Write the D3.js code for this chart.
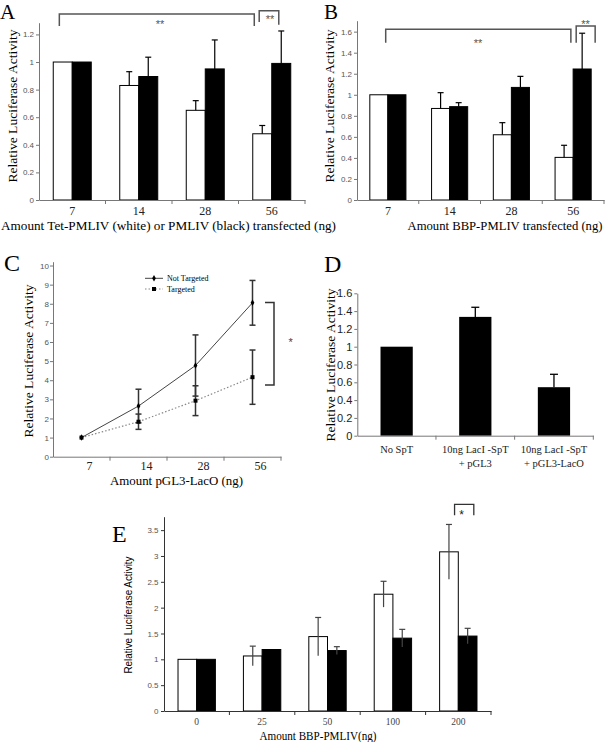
<!DOCTYPE html>
<html><head><meta charset="utf-8">
<script src="https://cdn.jsdelivr.net/npm/d3@7/dist/d3.min.js"></script>
<style>body{margin:0;background:#fff}svg{display:block}</style>
</head><body>
<svg id="c" width="608" height="742"></svg>
<script>
// ---------- DATA ----------
const catsAB = ["7", "14", "28", "56"];
const aWhite = [1.0, 0.83, 0.65, 0.48];
const aWhiteErr = [0, 0.10, 0.07, 0.06];
const aBlack = [1.0, 0.895, 0.95, 0.99];
const aBlackErr = [0, 0.14, 0.21, 0.235];
const aTicks = [0, 0.2, 0.4, 0.6, 0.8, 1, 1.2];

const bWhite = [1.0, 0.87, 0.62, 0.405];
const bWhiteErr = [0, 0.15, 0.115, 0.115];
const bBlack = [1.0, 0.887, 1.07, 1.245];
const bBlackErr = [0, 0.038, 0.105, 0.34];
const bTicks = [0, 0.2, 0.4, 0.6, 0.8, 1, 1.2, 1.4, 1.6];

const catsC = ["7", "14", "28", "56"];
const cNot = [1, 2.65, 4.77, 8.05];
const cNotErr = [0, 0.88, 1.6, 1.17];
const cTar = [1, 1.83, 2.93, 4.16];
const cTarErr = [0, 0.4, 0.78, 1.42];
const cTicks = [0, 1, 2, 3, 4, 5, 6, 7, 8, 9, 10];

const catsD = ["No SpT", "10ng LacI -SpT|+ pGL3", "10ng LacI -SpT|+ pGL3-LacO"];
const dVals = [1.0, 1.335, 0.545];
const dErr = [0, 0.108, 0.145];
const dTicks = [0, 0.2, 0.4, 0.6, 0.8, 1, 1.2, 1.4, 1.6];

const catsE = ["0", "25", "50", "100", "200"];
const eWhite = [1.0, 1.065, 1.44, 2.26, 3.08];
const eWhiteErr = [0, 0.19, 0.37, 0.25, 0.53];
const eBlack = [1.0, 1.19, 1.17, 1.41, 1.45];
const eBlackErr = [0, 0, 0.075, 0.17, 0.15];
const eTicks = [0, 0.5, 1, 1.5, 2, 2.5, 3, 3.5];

const yTitle = "Relative Luciferase Activity";

// ---------- HELPERS ----------
const svg = d3.select("#c");
const SERIF = "'Liberation Serif','Times New Roman',serif";
const SANS = "'Liberation Sans',Arial,sans-serif";
const fmt = d => String(+d.toFixed(1));

function text(g, s, x, y, o) {
  const t = g.append("text").attr("x", x).attr("y", y).text(s)
    .attr("font-family", o.ff || SERIF).attr("font-size", o.fs || 14)
    .attr("fill", o.fill || "#000").attr("text-anchor", o.anchor || "middle");
  if (o.len) t.attr("textLength", o.len).attr("lengthAdjust", "spacingAndGlyphs");
  return t;
}
function vtext(g, s, cx, cy, o) {
  const t = g.append("text").attr("transform", `translate(${cx},${cy}) rotate(-90)`)
    .attr("dy", "0.35em").text(s)
    .attr("font-family", o.ff || SERIF).attr("font-size", o.fs || 14)
    .attr("fill", o.fill || "#000").attr("text-anchor", "middle");
  if (o.len) t.attr("textLength", o.len).attr("lengthAdjust", "spacingAndGlyphs");
  return t;
}
function yAxis(g, y, x, ticks, o) {
  const a = g.append("g").attr("transform", `translate(${x},0)`)
    .call(d3.axisLeft(y).tickValues(ticks).tickFormat(fmt).tickSize(3).tickSizeOuter(0).tickPadding(o.pad || 2));
  a.select(".domain").attr("stroke", o.color).attr("stroke-width", 1);
  a.selectAll(".tick line").attr("stroke", o.color);
  a.selectAll(".tick text").attr("font-family", SANS).attr("font-size", o.fs).attr("fill", o.tfill);
  return a;
}
function xAxis(g, x, y0, o) {
  const a = g.append("g").attr("transform", `translate(0,${y0})`)
    .call(d3.axisBottom(x).tickSize(0).tickSizeOuter(0).tickPadding(o.pad));
  a.select(".domain").attr("stroke", o.color).attr("stroke-width", 1);
  a.selectAll(".tick text").attr("font-family", SERIF).attr("font-size", o.fs).attr("fill", o.tfill)
    .attr("dx", o.dx || 0);
  a.selectAll(".bt").data(x.domain()).join("line").attr("class", "bt")
    .attr("x1", d => x(d) + x.step()).attr("x2", d => x(d) + x.step())
    .attr("y1", 0).attr("y2", 4).attr("stroke", o.color);
  return a;
}
function errBar(g, cx, yv, ylo, yhi, cap, color, sw, bottomCap) {
  g.append("line").attr("x1", cx).attr("x2", cx).attr("y1", ylo).attr("y2", yhi)
    .attr("stroke", color).attr("stroke-width", sw);
  g.append("line").attr("x1", cx - cap).attr("x2", cx + cap).attr("y1", yhi).attr("y2", yhi)
    .attr("stroke", color).attr("stroke-width", sw);
  if (bottomCap) g.append("line").attr("x1", cx - cap).attr("x2", cx + cap).attr("y1", ylo).attr("y2", ylo)
    .attr("stroke", color).attr("stroke-width", sw);
}
function groupedBars(cfg) {
  const g = svg.append("g");
  const x0 = d3.scaleBand().domain(cfg.cats).range(cfg.xr);
  const x1 = d3.scaleBand().domain(cfg.series.map(s => s.key)).range([0, x0.bandwidth()]).paddingOuter(cfg.pad);
  const y = d3.scaleLinear().domain([0, cfg.ymax]).range(cfg.yr);
  cfg.series.forEach(s => {
    g.append("g").selectAll("rect").data(cfg.cats).join("rect")
      .attr("x", c => x0(c) + x1(s.key)).attr("y", (c, i) => y(s.vals[i]))
      .attr("width", x1.bandwidth()).attr("height", (c, i) => y(0) - y(s.vals[i]))
      .attr("fill", s.fill).attr("stroke", "#000").attr("stroke-width", 1);
  });
  cfg.series.forEach(s => {
    const eg = g.append("g");
    cfg.cats.forEach((c, i) => {
      const e = s.errs[i]; if (!e) return;
      const cx = x0(c) + x1(s.key) + x1.bandwidth() / 2;
      const lo = cfg.both ? y(s.vals[i] - e) : y(s.vals[i]);
      errBar(eg, cx, y(s.vals[i]), lo, y(s.vals[i] + e), cfg.cap, cfg.errColor, cfg.errW, false);
    });
  });
  return { g, x0, x1, y };
}
function bracket(g, x1, x2, yTop, yL, yR, color, sw) {
  g.append("path").attr("d", `M${x1},${yL}V${yTop}H${x2}V${yR}`)
    .attr("fill", "none").attr("stroke", color).attr("stroke-width", sw);
}

// ---------- PANEL A ----------
{
  const P = groupedBars({
    cats: catsAB, xr: [39, 305], pad: 0.75, ymax: 1.285, yr: [200, 22.7], cap: 3, errColor: "#000", errW: 1.2,
    series: [{ key: "white", vals: aWhite, errs: aWhiteErr, fill: "#fff" },
             { key: "black", vals: aBlack, errs: aBlackErr, fill: "#000" }]
  });
  const { g, x0, x1, y } = P;
  yAxis(g, y, 39, aTicks, { color: "#777", fs: 8, tfill: "#555", pad: 2 });
  xAxis(g, x0, 200, { color: "#777", fs: 12, tfill: "#222", pad: 6 });
  const bx = (c, k, f) => x0(c) + x1(k) + f * x1.bandwidth();
  bracket(g, bx("7", "white", 0.32), bx("56", "white", 0.08), y(1.348), y(1.261), y(1.261), "#555", 1.5);
  bracket(g, bx("56", "white", 0.34), bx("56", "black", 0.37), y(1.372), y(1.29), y(1.27), "#555", 1.5);
  text(g, "**", 160, 28, { ff: SANS, fs: 11, fill: "#555" });
  text(g, "**", 270, 23, { ff: SANS, fs: 11, fill: "#555" });
  vtext(g, yTitle, 12.5, 106, { fs: 13.5, len: 153 });
  text(g, "Amount Tet-PMLIV (white) or PMLIV (black) transfected (ng)", 168.5, 230, { fs: 13.2, len: 335 });
  text(g, "A", 0, 19, { fs: 21, anchor: "start" });
}

// ---------- PANEL B ----------
{
  const P = groupedBars({
    cats: catsAB, xr: [357, 604], pad: 0.71, ymax: 1.704, yr: [200, 20.7], cap: 3, errColor: "#000", errW: 1.2,
    series: [{ key: "white", vals: bWhite, errs: bWhiteErr, fill: "#fff" },
             { key: "black", vals: bBlack, errs: bBlackErr, fill: "#000" }]
  });
  const { g, x0, x1, y } = P;
  yAxis(g, y, 357, bTicks, { color: "#777", fs: 8, tfill: "#555", pad: 2 });
  xAxis(g, x0, 200, { color: "#777", fs: 12, tfill: "#222", pad: 6 });
  const bx = (c, k, f) => x0(c) + x1(k) + f * x1.bandwidth();
  bracket(g, bx("7", "white", 0.88), bx("56", "white", 0.875), y(1.623), y(1.495), y(1.495), "#555", 1.5);
  bracket(g, bx("56", "black", 0.17), bx("56", "black", 1.22), y(1.654), y(1.495), y(1.495), "#555", 1.5);
  text(g, "**", 478, 47, { ff: SANS, fs: 11, fill: "#555" });
  text(g, "**", 585.5, 28, { ff: SANS, fs: 11, fill: "#555" });
  vtext(g, yTitle, 329, 106, { fs: 13.5, len: 153 });
  text(g, "Amount BBP-PMLIV transfected (ng)", 505, 230, { fs: 12.7, len: 195 });
  text(g, "B", 324, 19, { fs: 21, anchor: "start" });
}

// ---------- PANEL C ----------
{
  const g = svg.append("g");
  const x = d3.scaleBand().domain(catsC).range([53, 281]);
  const y = d3.scaleLinear().domain([0, 10.2]).range([456.7, 261.7]);
  const cx = c => x(c) + x.bandwidth() / 2;
  const line = d3.line().x((d, i) => cx(catsC[i])).y(d => y(d));
  g.append("path").attr("d", line(cTar)).attr("fill", "none").attr("stroke", "#888")
    .attr("stroke-width", 1.2).attr("stroke-dasharray", "1.5,2");
  g.append("path").attr("d", line(cNot)).attr("fill", "none").attr("stroke", "#444").attr("stroke-width", 1);
  const eg = g.append("g");
  catsC.forEach((c, i) => {
    if (cNotErr[i]) errBar(eg, cx(c), y(cNot[i]), y(cNot[i] - cNotErr[i]), y(cNot[i] + cNotErr[i]), 3, "#333", 1.5, true);
    if (cTarErr[i]) errBar(eg, cx(c), y(cTar[i]), y(cTar[i] - cTarErr[i]), y(cTar[i] + cTarErr[i]), 3, "#333", 1.5, true);
  });
  g.append("g").selectAll("rect").data(cTar).join("rect")
    .attr("x", (d, i) => cx(catsC[i]) - 2).attr("y", d => y(d) - 2).attr("width", 4).attr("height", 4).attr("fill", "#000");
  const diamond = d3.symbol().type(d3.symbolDiamond).size(12);
  g.append("g").selectAll("path").data(cNot).join("path")
    .attr("transform", (d, i) => `translate(${cx(catsC[i])},${y(d)})`).attr("d", diamond).attr("fill", "#000");
  yAxis(g, y, 53, cTicks, { color: "#777", fs: 8, tfill: "#555", pad: 1 });
  xAxis(g, x, 456.7, { color: "#777", fs: 12, tfill: "#222", pad: 5, dx: 8 });
  // legend
  g.append("line").attr("x1", 145).attr("x2", 163).attr("y1", 278.3).attr("y2", 278.3).attr("stroke", "#444");
  g.append("path").attr("transform", "translate(154,278.3)").attr("d", diamond).attr("fill", "#000");
  g.append("line").attr("x1", 145).attr("x2", 163).attr("y1", 289).attr("y2", 289).attr("stroke", "#888")
    .attr("stroke-dasharray", "1.5,2").attr("stroke-width", 1.2);
  g.append("rect").attr("x", 152).attr("y", 287).attr("width", 4).attr("height", 4).attr("fill", "#000");
  text(g, "Not Targeted", 167, 281.2, { fs: 8, anchor: "start" });
  text(g, "Targeted", 167, 292, { fs: 8, anchor: "start" });
  // significance
  const bxr = cx("56") + 21.5, bxl = cx("56") + 12.5;
  g.append("path").attr("d", `M${bxl},${y(8.06)}H${bxr}V${y(3.75)}H${bxl}`)
    .attr("fill", "none").attr("stroke", "#333").attr("stroke-width", 1.5);
  text(g, "*", 290.7, 346, { ff: SANS, fs: 11, fill: "#444" });
  vtext(g, yTitle, 28, 361, { fs: 13.5, len: 153 });
  text(g, "Amount pGL3-LacO (ng)", 176.5, 485, { fs: 13, len: 133 });
  text(g, "C", 4, 271, { fs: 24, anchor: "start" });
}

// ---------- PANEL D ----------
{
  const g = svg.append("g");
  const x = d3.scaleBand().domain(catsD).range([357.3, 593.3]).paddingInner(0.59).paddingOuter(0.295);
  const xb = d3.scaleBand().domain(catsD).range([357.3, 593.3]);
  const y = d3.scaleLinear().domain([0, 1.6]).range([435.7, 293.3]);
  g.append("g").selectAll("rect").data(catsD).join("rect")
    .attr("x", c => x(c)).attr("y", (c, i) => y(dVals[i])).attr("width", x.bandwidth())
    .attr("height", (c, i) => y(0) - y(dVals[i])).attr("fill", "#000");
  const eg = g.append("g");
  catsD.forEach((c, i) => {
    if (dErr[i]) errBar(eg, x(c) + x.bandwidth() / 2, y(dVals[i]), y(dVals[i]), y(dVals[i] + dErr[i]), 4, "#000", 1.3, false);
  });
  yAxis(g, y, 357.3, dTicks, { color: "#777", fs: 11, tfill: "#222", pad: 2 });
  const a = xAxis(g, xb, 435.7, { color: "#777", fs: 10.5, tfill: "#222", pad: 10 });
  a.selectAll(".tick text").each(function (d) {
    const t = d3.select(this).text(null);
    d.split("|").forEach((s, k) => t.append("tspan").attr("x", 0).attr("dy", k ? "1.35em" : "0.71em").text(s));
  });
  vtext(g, yTitle, 330, 365, { fs: 13.5, len: 153 });
  text(g, "D", 324, 272, { fs: 24, anchor: "start" });
}

// ---------- PANEL E ----------
{
  const P = groupedBars({
    cats: catsE, xr: [164, 491], pad: 0.75, ymax: 3.76, yr: [711, 516.7], cap: 3, errColor: "#444", errW: 1.2, both: true,
    series: [{ key: "white", vals: eWhite, errs: eWhiteErr, fill: "#fff" },
             { key: "black", vals: eBlack, errs: eBlackErr, fill: "#000" }]
  });
  const { g, x0, x1, y } = P;
  yAxis(g, y, 164, eTicks, { color: "#333", fs: 8, tfill: "#555", pad: 2.5 });
  xAxis(g, x0, 711, { color: "#333", fs: 9.5, tfill: "#444", pad: 7 });
  const bx = (c, k, f) => x0(c) + x1(k) + f * x1.bandwidth();
  bracket(g, bx("200", "white", 0.8), bx("200", "black", 0.83), y(4.0), y(3.79), y(3.79), "#333", 1.3);
  text(g, "*", 461.7, 519, { ff: SANS, fs: 12, fill: "#222" });
  vtext(g, yTitle, 128.3, 615, { ff: SANS, fs: 10, len: 117 });
  text(g, "Amount BBP-PMLIV(ng)", 318, 740, { fs: 11.5, len: 117 });
  text(g, "E", 112, 542, { fs: 24, anchor: "start" });
}
</script>
</body></html>
